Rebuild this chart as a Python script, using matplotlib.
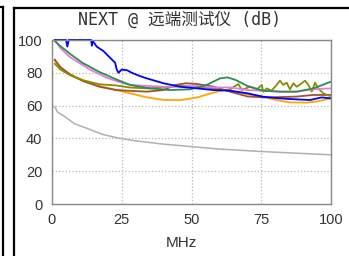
import matplotlib
matplotlib.use("Agg")
import matplotlib.pyplot as plt
from matplotlib.lines import Line2D

# NEXT readings at the remote unit
blue_f = [1, 5, 5.5, 6, 14, 14.3, 14.6, 16, 18.4, 20.8, 22.6, 23.2, 23.8, 25, 27, 28.6, 31.5, 34, 40,
          45.9, 51.9, 57.8, 63.8, 70, 75.7, 81.7, 87.7, 92.5, 96.6, 100]
blue_v = [100, 100, 96, 100, 100, 96.5, 99.5, 96, 93.3, 89.2, 86.2, 82, 80, 82, 81.5, 80, 78, 76.6, 73.6,
          71.5, 70.5, 69.5, 69.1, 67.5, 65.4, 64.4, 63.8, 63.4, 65, 64.4]

green_f = [1, 3, 6.5, 11, 17, 23, 28, 35, 42, 49.5, 55.4, 60.2, 63, 66, 70, 75.7, 81.7, 87.7, 93.7, 100]
green_v = [99.4, 96.3, 91.5, 86, 80.5, 76, 72.6, 70.5, 69.5, 69.9, 72.6, 76.6, 77.2, 75.5, 72, 69.1, 68.5, 68.5, 70.5, 74.6]

violet_f = [1, 3, 6.5, 13.6, 19.6, 24.4, 28, 34, 40, 46, 52, 57.8, 63.8, 70, 75.7, 81.7, 87.7, 93.7, 100]
violet_v = [100, 95, 89.5, 82, 77, 74.2, 72.6, 72, 71.5, 71.5, 72, 71.1, 71.1, 69.5, 69, 68.5, 68.5, 70, 70.5]

olive_f = [1, 3, 6.5, 11, 17, 23, 28, 34, 40, 46, 52, 58, 62, 63.8, 66.8, 68, 71, 73.4, 75.2, 75.7, 77, 78.7,
           80.5, 81.7, 82.9, 84.1, 85.3, 86.5, 87.7, 89.5, 90.7, 91.9, 93.1, 94.3, 95.4, 97.2, 99.6]
olive_v = [85.5, 82, 78.5, 75.5, 73, 72.3, 71, 70.5, 71, 72, 71.5, 70.5, 69.5, 69.9, 73.2, 69.5, 71.5, 69.9, 72.6,
           68.5, 70.5, 69.1, 72.6, 75.2, 72.6, 74, 69.9, 73.6, 71.5, 73.6, 75.2, 72.6, 68.5, 74, 70.5, 67.5, 65.9]

orange_f = [1, 3, 6.5, 11, 17, 23, 28, 34, 40, 46, 52, 58, 62, 64, 70, 75.7, 80, 85, 91, 95, 100]
orange_v = [87.5, 83, 79, 75.5, 72, 69.5, 67.5, 65, 63.5, 63.3, 65, 68, 69.5, 69, 67, 65.4, 63.5, 62, 61.8, 62.5, 64.5]

brown_f = [1, 3, 6.5, 11, 17, 23, 28, 34, 40, 44, 48, 52, 58, 63.8, 70, 75.7, 81.7, 87.7, 93.6, 100]
brown_v = [88, 83.5, 79, 75, 71.5, 69.5, 69, 68.5, 69.5, 72.5, 73.6, 73.2, 71.5, 68.5, 65.6, 65, 65.2, 65.5, 66.5, 66.5]

limit_f = [1, 2, 4.7, 8, 12.4, 18, 23.8, 30, 40, 50, 60, 75, 90, 100]
limit_v = [59.3, 56, 53.2, 49, 46.2, 42.5, 40.2, 38.5, 36.5, 35, 33.5, 32, 30.8, 30]

x_ticks = [0, 25, 50, 75, 100]
y_ticks = [0, 20, 40, 60, 80, 100]

plt.rcParams['font.family'] = ['Liberation Sans', 'DejaVu Sans']

fig = plt.figure(figsize=(3.49, 2.56), dpi=100)
ax = fig.add_axes([52 / 349, 52 / 256, 279 / 349, 164 / 256])

lw = 1.3
ax.plot(limit_f, limit_v, color='#b0b0b0', lw=1.1, clip_on=False)
ax.plot(orange_f, orange_v, color='orange', lw=lw, clip_on=False)
ax.plot(brown_f, brown_v, color='#a0522d', lw=lw, clip_on=False)
ax.plot(olive_f, olive_v, color='#8b8b00', lw=lw, clip_on=False)
ax.plot(violet_f, violet_v, color='#e27ee2', lw=lw, clip_on=False)
ax.plot(green_f, green_v, color='#2e8b57', lw=lw, clip_on=False)
ax.plot(blue_f, blue_v, color='#0000ff', lw=lw, clip_on=False)

ax.set_xlim(0, 100)
ax.set_ylim(0, 100)
ax.set_xticks(x_ticks)
ax.set_yticks(y_ticks)
ax.tick_params(length=0, labelsize=10.5, colors='#333333')
ax.tick_params(axis='y', pad=7)
ax.tick_params(axis='x', pad=6.5)
ax.grid(True, linestyle=':', color='#b8b8b8', lw=0.9)
for s in ax.spines.values():
    s.set_color('#888888')
    s.set_linewidth(1.0)

fig.text(180 / 349, 1 - 20 / 256, 'NEXT @ 远端测试仪 (dB)', ha='center', va='center', fontsize=12,
         color='#333333', family=['DejaVu Sans Mono', 'Noto Sans CJK SC'])
fig.text(181 / 349, 1 - 243 / 256, 'MHz', ha='center', va='center', fontsize=11, color='#333333')

# panel borders
fig.add_artist(Line2D([3 / 349, 3 / 349], [0, 1 - 7 / 256], color='black', lw=1.6))
fig.add_artist(Line2D([0, 3 / 349], [1 - 7 / 256, 1 - 7 / 256], color='black', lw=1.6))
fig.add_artist(Line2D([14 / 349, 14 / 349], [0, 1 - 8 / 256], color='black', lw=1.6))
fig.add_artist(Line2D([14 / 349, 1], [1 - 8 / 256, 1 - 8 / 256], color='black', lw=1.6))

fig.savefig('out.png', dpi=100)
